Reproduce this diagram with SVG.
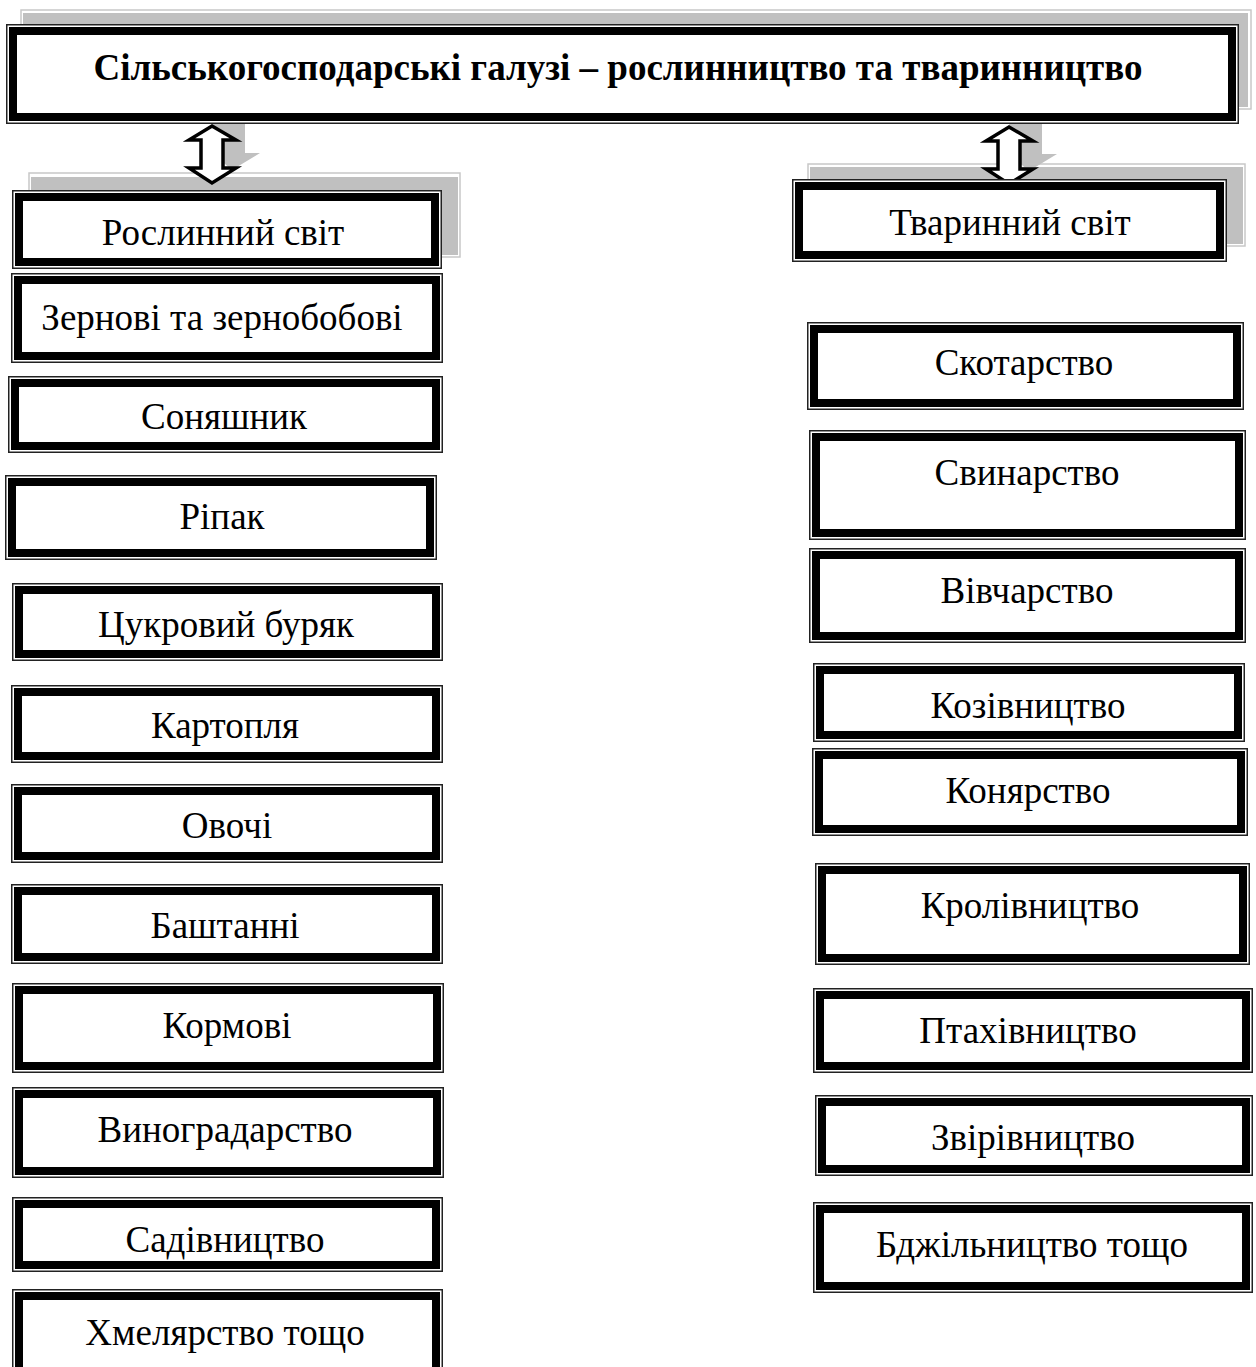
<svg xmlns="http://www.w3.org/2000/svg" width="1256" height="1367" viewBox="0 0 1256 1367">
<style>
.o{fill:#fff;stroke:#222;stroke-width:1.5}
.i{fill:#fff;stroke:#000;stroke-width:8}
.sh{fill:#c0c0c0;stroke:none}
.shl{fill:none;stroke:#c8c8c8;stroke-width:1.5}
.t{font-family:"Liberation Serif","Times New Roman",serif;font-size:37px;fill:#000;text-anchor:middle}
.tb{font-family:"Liberation Serif","Times New Roman",serif;font-size:37px;font-weight:bold;fill:#000;text-anchor:middle}
.ar{fill:#fff;stroke:#000;stroke-width:3.5;stroke-linejoin:miter}
.ars{fill:#c0c0c0;stroke:none}
</style>
<rect width="1256" height="1367" fill="#fff"/>
<g id="shadows">
<rect class="shl" x="21" y="10" width="1230" height="99"/>
<rect class="sh" x="23" y="13" width="1225" height="94"/>
<rect class="shl" x="29" y="173" width="431" height="84"/>
<rect class="sh" x="31" y="177" width="427" height="78"/>
<rect class="shl" x="808" y="164" width="437" height="82"/>
<rect class="sh" x="810" y="167" width="433" height="77"/>
</g>
<g id="connectors">
<path class="ars" d="M228,108 L260,123 L245,123 L245,153 L260,153 L232,170 L212,153 L212,123 L200,123 Z"/>
<path class="ar" d="M212,126 L236,140 L223,140 L223,168 L236,168 L212,183 L189,168 L201,168 L201,140 L189,140 Z"/>
<path class="ars" d="M1025,109 L1057,124 L1042,124 L1042,154 L1057,154 L1029,171 L1009,154 L1009,124 L997,124 Z"/>
<path class="ar" d="M1009,127 L1033,141 L1020,141 L1020,169 L1033,169 L1009,184 L986,169 L998,169 L998,141 L986,141 Z"/>
</g>
<g id="title">
<rect class="o" x="6.75" y="24.75" width="1231.5" height="98.5"/>
<rect class="i" x="13" y="31" width="1219" height="86"/>
<text class="tb" x="618" y="80">Сільськогосподарські галузі – рослинництво та тваринництво</text>
</g>
<g id="plant">
<rect class="o" x="12.75" y="190.75" width="428.5" height="77.5"/>
<rect class="i" x="19" y="197" width="416" height="65"/>
<text class="t" x="223" y="245">Рослинний світ</text>
</g>
<g id="animal">
<rect class="o" x="792.75" y="179.75" width="433.5" height="81.5"/>
<rect class="i" x="799" y="186" width="421" height="69"/>
<text class="t" x="1010" y="235">Тваринний світ</text>
</g>
<g id="n1"><rect class="o" x="11.75" y="273.75" width="430.5" height="88.5"/><rect class="i" x="18" y="280" width="418" height="76"/><text class="t" x="222" y="330">Зернові та зернобобові</text></g>
<g id="n2"><rect class="o" x="8.75" y="376.75" width="433.5" height="75.5"/><rect class="i" x="15" y="383" width="421" height="63"/><text class="t" x="224" y="429">Соняшник</text></g>
<g id="n3"><rect class="o" x="5.75" y="475.75" width="430.5" height="83.5"/><rect class="i" x="12" y="482" width="418" height="71"/><text class="t" x="222" y="529">Ріпак</text></g>
<g id="n4"><rect class="o" x="12.75" y="583.75" width="429.5" height="76.5"/><rect class="i" x="19" y="590" width="417" height="64"/><text class="t" x="226" y="637">Цукровий буряк</text></g>
<g id="n5"><rect class="o" x="11.75" y="685.75" width="430.5" height="76.5"/><rect class="i" x="18" y="692" width="418" height="64"/><text class="t" x="225" y="738">Картопля</text></g>
<g id="n6"><rect class="o" x="11.75" y="784.75" width="430.5" height="77.5"/><rect class="i" x="18" y="791" width="418" height="65"/><text class="t" x="227" y="838">Овочі</text></g>
<g id="n7"><rect class="o" x="11.75" y="884.75" width="430.5" height="78.5"/><rect class="i" x="18" y="891" width="418" height="66"/><text class="t" x="225" y="938">Баштанні</text></g>
<g id="n8"><rect class="o" x="12.75" y="983.75" width="430.5" height="88.5"/><rect class="i" x="19" y="990" width="418" height="76"/><text class="t" x="227" y="1038">Кормові</text></g>
<g id="n9"><rect class="o" x="12.75" y="1087.75" width="430.5" height="89.5"/><rect class="i" x="19" y="1094" width="418" height="77"/><text class="t" x="225" y="1142">Виноградарство</text></g>
<g id="n10"><rect class="o" x="12.75" y="1197.75" width="429.5" height="73.5"/><rect class="i" x="19" y="1204" width="417" height="61"/><text class="t" x="225" y="1252">Садівництво</text></g>
<g id="n11"><rect class="o" x="12.75" y="1289.75" width="429.5" height="90"/><rect class="i" x="19" y="1296" width="417" height="80"/><text class="t" x="225" y="1345">Хмелярство тощо</text></g>
<g id="m1"><rect class="o" x="807.75" y="322.75" width="435.5" height="86.5"/><rect class="i" x="814" y="329" width="423" height="74"/><text class="t" x="1024" y="375">Скотарство</text></g>
<g id="m2"><rect class="o" x="809.75" y="430.75" width="435.5" height="108.5"/><rect class="i" x="816" y="437" width="423" height="96"/><text class="t" x="1027" y="485">Свинарство</text></g>
<g id="m3"><rect class="o" x="809.75" y="548.75" width="435.5" height="93.5"/><rect class="i" x="816" y="555" width="423" height="81"/><text class="t" x="1027" y="603">Вівчарство</text></g>
<g id="m4"><rect class="o" x="813.75" y="663.75" width="430.5" height="77.5"/><rect class="i" x="820" y="670" width="418" height="65"/><text class="t" x="1028" y="718">Козівництво</text></g>
<g id="m5"><rect class="o" x="812.75" y="748.75" width="434.5" height="86.5"/><rect class="i" x="819" y="755" width="422" height="74"/><text class="t" x="1028" y="803">Конярство</text></g>
<g id="m6"><rect class="o" x="815.75" y="863.75" width="433.5" height="100.5"/><rect class="i" x="822" y="870" width="421" height="88"/><text class="t" x="1030" y="918">Кролівництво</text></g>
<g id="m7"><rect class="o" x="813.75" y="988.75" width="438.5" height="83.5"/><rect class="i" x="820" y="995" width="426" height="71"/><text class="t" x="1028" y="1043">Птахівництво</text></g>
<g id="m8"><rect class="o" x="815.75" y="1095.75" width="436.5" height="79.5"/><rect class="i" x="822" y="1102" width="424" height="67"/><text class="t" x="1033" y="1150">Звірівництво</text></g>
<g id="m9"><rect class="o" x="813.75" y="1202.75" width="438.5" height="89.5"/><rect class="i" x="820" y="1209" width="426" height="77"/><text class="t" x="1032" y="1257">Бджільництво тощо</text></g>
</svg>
